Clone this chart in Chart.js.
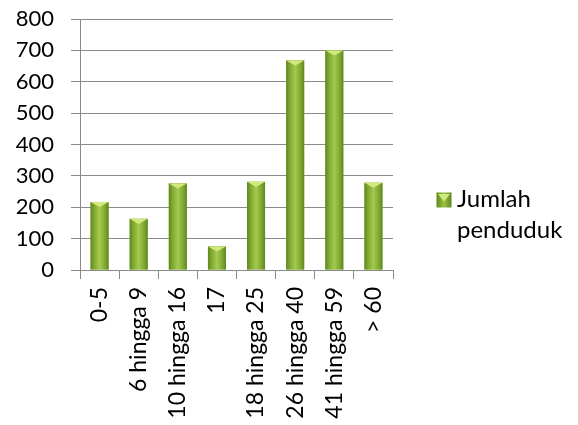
<!DOCTYPE html>
<html>
<head>
<meta charset="utf-8">
<script src="https://cdn.jsdelivr.net/npm/chart.js@4"></script>
<style>
  html, body { margin: 0; padding: 0; background: #ffffff; }
  #wrap { width: 578px; height: 425px; }
</style>
</head>
<body>
<div id="wrap"><canvas id="c" width="578" height="425"></canvas></div>
<script>
// Age groups and population counts
const categories = ['0-5', '6 hingga 9', '10 hingga 16', '17', '18 hingga 25', '26 hingga 40', '41 hingga 59', '> 60'];
const jumlahPenduduk = [217, 163, 276, 75, 281, 668, 700, 278];
const yTickValues = [0, 100, 200, 300, 400, 500, 600, 700, 800];
const seriesLabel = ['Jumlah', 'penduduk'];

const FONT = 'Lato, "Open Sans", sans-serif';
const GRID = '#8a8a8a';

// Bevelled green fill for a rectangle-shaped bar
function bevelBar(ctx, left, right, top, bottom) {
  const w = right - left;
  const g = ctx.createLinearGradient(left, 0, right, 0);
  g.addColorStop(0, '#5d871c');
  g.addColorStop(0.18, '#7da530');
  g.addColorStop(0.5, '#a4ca4e');
  g.addColorStop(0.82, '#7da530');
  g.addColorStop(1, '#5d871c');
  ctx.fillStyle = g;
  ctx.fillRect(left, top, w, bottom - top);
  // light bevel on the top face
  const depth = Math.min(w * 0.28, (bottom - top));
  ctx.beginPath();
  ctx.moveTo(left, top);
  ctx.lineTo(right, top);
  ctx.lineTo(left + w / 2, top + depth);
  ctx.closePath();
  ctx.fillStyle = '#d2e97e';
  ctx.fill();
}

const bevelPlugin = {
  id: 'bevelBars',
  afterDatasetsDraw(chart) {
    const ctx = chart.ctx;
    const meta = chart.getDatasetMeta(0);
    ctx.save();
    meta.data.forEach(el => {
      const p = el.getProps(['x', 'y', 'base', 'width'], true);
      bevelBar(ctx, p.x - p.width / 2, p.x + p.width / 2, Math.min(p.y, p.base), Math.max(p.y, p.base));
    });
    ctx.restore();
  }
};

// Legend box with the series name wrapped on two lines
const legendPlugin = {
  id: 'wrappedLegend',
  afterDraw(chart) {
    const ctx = chart.ctx;
    ctx.save();
    const bx = 436.5, by = 192.5, bs = 15;
    const g = ctx.createLinearGradient(bx, 0, bx + bs, 0);
    g.addColorStop(0, '#5d871c');
    g.addColorStop(0.5, '#9cc246');
    g.addColorStop(1, '#5d871c');
    ctx.fillStyle = g;
    ctx.fillRect(bx, by, bs, bs);
    ctx.beginPath();
    ctx.moveTo(bx + 1.5, by + 1.5);
    ctx.lineTo(bx + bs - 1.5, by + 1.5);
    ctx.lineTo(bx + bs / 2, by + bs * 0.6);
    ctx.closePath();
    ctx.fillStyle = '#d2e97e';
    ctx.fill();
    ctx.fillStyle = '#000000';
    ctx.font = '24px ' + FONT;
    ctx.textAlign = 'left';
    ctx.textBaseline = 'alphabetic';
    ctx.fillText(seriesLabel[0], 457, 207);
    ctx.fillText(seriesLabel[1], 457, 238);
    ctx.restore();
  }
};

new Chart(document.getElementById('c'), {
  type: 'bar',
  data: {
    labels: categories,
    datasets: [{
      label: seriesLabel.join(' '),
      data: jumlahPenduduk,
      backgroundColor: '#8cb33a',
      borderWidth: 0,
      barPercentage: 0.46,
      categoryPercentage: 1.0
    }]
  },
  options: {
    responsive: false,
    animation: false,
    devicePixelRatio: 1,
    layout: { padding: { top: 19, right: 185, bottom: 0, left: 0 } },
    plugins: {
      legend: { display: false },
      tooltip: { enabled: false }
    },
    scales: {
      x: {
        offset: true,
        grid: {
          offset: true,
          drawOnChartArea: false,
          drawTicks: true,
          tickLength: 9,
          color: GRID,
          lineWidth: 1
        },
        border: { display: true, color: GRID, width: 1 },
        ticks: {
          color: '#000000',
          font: { family: FONT, size: 23 },
          minRotation: 90,
          maxRotation: 90,
          padding: 8,
          autoSkip: false
        },
        afterFit(scale) { scale.height = 155; scale.paddingLeft = 0; scale.paddingRight = 0; }
      },
      y: {
        min: 0,
        max: 800,
        afterBuildTicks(scale) { scale.ticks = yTickValues.map(v => ({ value: v })); },
        grid: {
          color: GRID,
          lineWidth: 1,
          tickLength: 9,
          drawTicks: true
        },
        border: { display: true, color: GRID, width: 1 },
        ticks: {
          color: '#000000',
          font: { family: FONT, size: 22 },
          padding: 17
        },
        afterFit(scale) { scale.width = 80; scale.paddingTop = 0; scale.paddingBottom = 0; }
      }
    }
  },
  plugins: [bevelPlugin, legendPlugin]
});
</script>
</body>
</html>
